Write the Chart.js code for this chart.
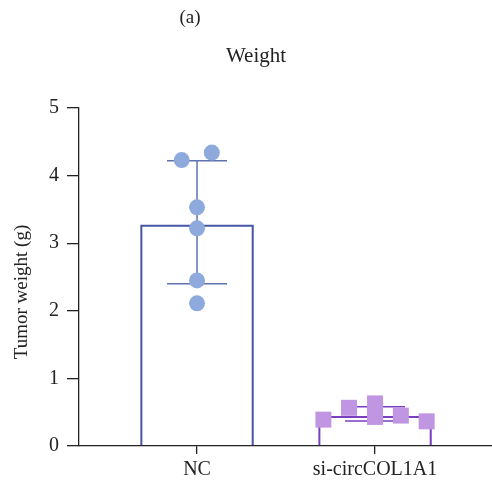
<!DOCTYPE html>
<html>
<head>
<meta charset="utf-8">
<script src="https://cdn.jsdelivr.net/npm/chart.js@4/dist/chart.umd.min.js"></script>
<style>
  html, body { margin: 0; padding: 0; background: #fff; }
  #wrap { position: relative; width: 492px; height: 486px; }
</style>
</head>
<body>
<div id="wrap"><canvas id="chart"></canvas></div>
<script>
/* ─── Data ───────────────────────────────────────────────── */

const categories = ['NC', 'si-circCOL1A1'];
const barMeans   = [3.27, 0.44];
const errUpper   = [4.22, 0.58];
const errLower   = [2.40, 0.37];

const ncValues = [4.23, 4.34, 3.53, 3.22, 2.45, 2.11];
const ncJitter = [-0.086, 0.083, 0, 0, 0, 0];
const siValues = [0.39, 0.565, 0.63, 0.43, 0.45, 0.365];
const siJitter = [-0.29, -0.146, 0, 0, 0.145, 0.29];

const yTicks = [0, 1, 2, 3, 4, 5];

/* ─── Styling ────────────────────────────────────────────── */

const COLORS = {
  axis:     '#222222',
  ncBar:    '#4557a6',
  ncErr:    '#5f72ad',
  ncPoint:  '#8eaadc',
  siBar:    '#7a3fc0',
  siErr:    '#7a3fc0',
  siPoint:  '#c096e2',
};
const FONT = 'Liberation Serif, "Times New Roman", serif';

/* error bars drawn underneath the bars and points */
const errorBars = {
  id: 'errorBars',
  beforeDatasetsDraw(chart) {
    const { ctx, scales: { x, y } } = chart;
    const capHalf = 30;
    const lineColors = [COLORS.ncErr, COLORS.siErr];
    ctx.save();
    ctx.lineWidth = 1.5;
    categories.forEach((_, i) => {
      const px = x.getPixelForValue(i);
      const top = y.getPixelForValue(errUpper[i]);
      const bot = y.getPixelForValue(errLower[i]);
      ctx.strokeStyle = lineColors[i];
      ctx.beginPath();
      ctx.moveTo(px, top); ctx.lineTo(px, bot);
      ctx.moveTo(px - capHalf, top); ctx.lineTo(px + capHalf, top);
      ctx.moveTo(px - capHalf, bot); ctx.lineTo(px + capHalf, bot);
      ctx.stroke();
    });
    ctx.restore();
  },
};

/* panel letter, title and y axis title */
const labels = {
  id: 'labels',
  afterDraw(chart) {
    const { ctx } = chart;
    ctx.save();
    ctx.fillStyle = COLORS.axis;
    ctx.textAlign = 'center';
    ctx.textBaseline = 'alphabetic';
    ctx.font = `19px ${FONT}`;
    ctx.fillText('(a)', 190, 23);
    ctx.font = `21px ${FONT}`;
    ctx.fillText('Weight', 256, 62);
    ctx.translate(27, 292);
    ctx.rotate(-Math.PI / 2);
    ctx.font = `19px ${FONT}`;
    ctx.fillText('Tumor weight (g)', 0, 0);
    ctx.restore();
  },
};

new Chart(document.getElementById('chart'), {
  type: 'scatter',
  data: {
    datasets: [
      {
        type: 'scatter',
        data: ncValues.map((v, i) => ({ x: 0 + ncJitter[i], y: v })),
        pointStyle: 'circle',
        pointRadius: 8,
        pointBackgroundColor: COLORS.ncPoint,
        pointBorderWidth: 0,
      },
      {
        type: 'scatter',
        data: siValues.map((v, i) => ({ x: 1 + siJitter[i], y: v })),
        pointStyle: 'rect',
        pointRadius: 11.3,
        pointBackgroundColor: COLORS.siPoint,
        pointBorderWidth: 0,
      },
      {
        type: 'bar',
        data: barMeans.map((v, i) => ({ x: i, y: v })),
        backgroundColor: 'rgba(0,0,0,0)',
        borderColor: [COLORS.ncBar, COLORS.siBar],
        borderWidth: 1.5,
        borderSkipped: 'start',
        barThickness: 113,
      },
    ],
  },
  options: {
    responsive: true,
    maintainAspectRatio: false,
    animation: false,
    events: [],
    layout: { autoPadding: false, padding: { top: 108, right: 0, left: 0, bottom: 0 } },
    plugins: {
      legend: { display: false },
      tooltip: { enabled: false },
    },
    scales: {
      x: {
        type: 'linear',
        min: -0.663,
        max: 1.657,
        offset: false,
        afterBuildTicks: (scale) => { scale.ticks = categories.map((_, i) => ({ value: i })); },
        afterFit: (scale) => {
          scale.height = 40;
          scale.paddingLeft = 0;
          scale.paddingRight = 0;
        },
        grid: { offset: false, drawOnChartArea: false, drawTicks: true, tickLength: 8, color: COLORS.axis, lineWidth: 1.3 },
        border: { color: COLORS.axis, width: 1.3 },
        ticks: {
          color: COLORS.axis,
          font: { family: FONT, size: 20 },
          padding: 4,
          maxRotation: 0,
          callback: (v, i) => categories[i],
        },
      },
      y: {
        min: 0,
        max: 5,
        afterBuildTicks: (scale) => { scale.ticks = yTicks.map(v => ({ value: v })); },
        afterFit: (scale) => { scale.width = 79; },
        grid: { drawOnChartArea: false, drawTicks: true, tickLength: 12, color: COLORS.axis, lineWidth: 1.3 },
        border: { color: COLORS.axis, width: 1.3 },
        ticks: {
          color: COLORS.axis,
          font: { family: FONT, size: 20 },
          padding: 8,
        },
      },
    },
  },
  plugins: [errorBars, labels],
});
</script>
</body>
</html>
